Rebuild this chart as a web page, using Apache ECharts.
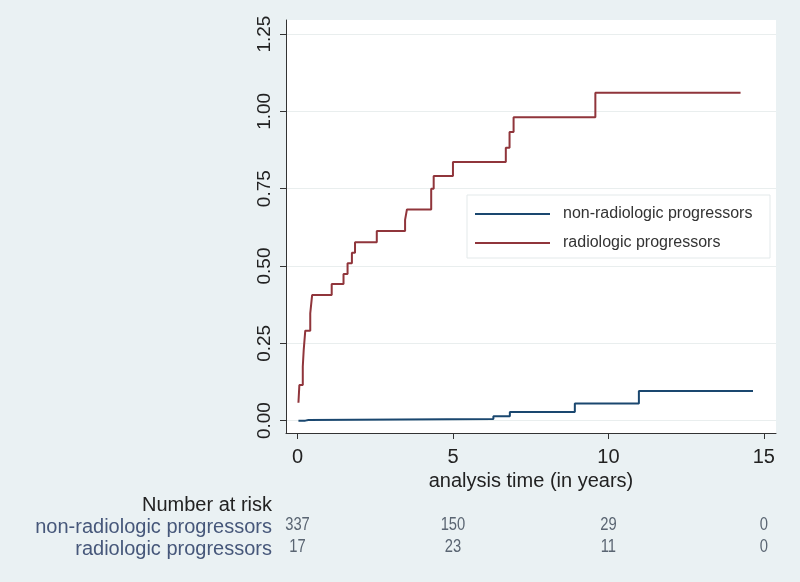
<!DOCTYPE html>
<html>
<head>
<meta charset="utf-8">
<script src="https://cdn.jsdelivr.net/npm/echarts@6/dist/echarts.min.js"></script>
<style>
html,body{margin:0;padding:0;background:#eaf1f3;}
#chart{width:800px;height:582px;}
</style>
</head>
<body>
<div id="chart"></div>
<script>
// ---- data ----
const seriesNames = ['non-radiologic progressors', 'radiologic progressors'];
const nonRadTimes  = [0.03, 0.25, 0.35, 6.30, 6.83, 8.92, 10.98, 14.65];
const nonRadValues = [0.000, 0.002, 0.005, 0.014, 0.028, 0.055, 0.096, 0.096];
const radTimes  = [0.03, 0.06, 0.17, 0.20, 0.25, 0.41, 0.47, 1.10, 1.48, 1.61, 1.75, 1.85, 2.55, 3.46, 3.52, 4.30, 4.38, 5.00, 6.70, 6.82, 6.95, 9.58, 14.25];
const radValues = [0.058, 0.115, 0.175, 0.229, 0.291, 0.347, 0.406, 0.442, 0.474, 0.509, 0.543, 0.577, 0.613, 0.649, 0.683, 0.750, 0.791, 0.836, 0.882, 0.933, 0.981, 1.060, 1.060];
const xTicks = [0, 5, 10, 15];
const yTicks = [0, 0.25, 0.5, 0.75, 1.0, 1.25];
const riskTimes = [0, 5, 10, 15];
const riskNonRad = [337, 150, 29, 0];
const riskRad = [17, 23, 11, 0];
const xTitle = 'analysis time (in years)';
const riskTitle = 'Number at risk';

const pairs = (t, v) => t.map((x, i) => [x, v[i]]);
const xMin = -0.37, xMax = 15.39, yMin = -0.04, yMax = 1.2955;
const sans = "'Liberation Sans', Arial, sans-serif";

const chart = echarts.init(document.getElementById('chart'), null, {renderer: 'canvas'});
const baseGraphic = [
  {type: 'rect', z: 5, shape: {x: 467, y: 195, width: 303, height: 63},
   style: {fill: '#ffffff', stroke: '#e3e9ea', lineWidth: 1}},
  {type: 'text', x: 272, y: 505, style: {text: riskTitle, fontFamily: sans, fontSize: 20, fill: '#222', align: 'right', verticalAlign: 'middle'}},
  {type: 'text', x: 272, y: 527, style: {text: seriesNames[0], fontFamily: sans, fontSize: 20, fill: '#46577a', align: 'right', verticalAlign: 'middle'}},
  {type: 'text', x: 272, y: 549, style: {text: seriesNames[1], fontFamily: sans, fontSize: 20, fill: '#46577a', align: 'right', verticalAlign: 'middle'}}
];
chart.setOption({
  backgroundColor: '#eaf1f3',
  animation: false,
  grid: {left: 286, right: 24, top: 20, bottom: 149, show: true, backgroundColor: '#ffffff', borderWidth: 0},
  xAxis: {
    type: 'value', min: xMin, max: xMax, position: 'bottom',
    name: xTitle, nameLocation: 'middle', nameGap: 38,
    nameTextStyle: {fontFamily: sans, fontSize: 20, color: '#222'},
    axisLine: {show: true, onZero: false, lineStyle: {color: '#333', width: 1}},
    axisTick: {show: true, customValues: xTicks, length: 6, inside: false, lineStyle: {color: '#333'}},
    axisLabel: {customValues: xTicks, margin: 14, fontFamily: sans, fontSize: 20, color: '#222'},
    splitLine: {show: false}
  },
  yAxis: {
    type: 'value', min: yMin, max: yMax,
    axisLine: {show: true, onZero: false, lineStyle: {color: '#333', width: 1}},
    axisTick: {show: true, customValues: yTicks, length: 6, lineStyle: {color: '#333'}},
    axisLabel: {customValues: yTicks, rotate: 90, margin: 12, fontFamily: sans, fontSize: 19, color: '#222',
      formatter: v => v.toFixed(2)},
    splitLine: {show: true, lineStyle: {color: '#e9eeee', width: 1}}
  },
  legend: {
    show: true, orient: 'vertical', left: 467, top: 196, padding: [8, 8, 8, 8],
    itemWidth: 75, itemHeight: 2, itemGap: 9, icon: 'rect',
    data: seriesNames,
    textStyle: {fontFamily: sans, fontSize: 16, color: '#333', lineHeight: 20, padding: [0, 0, 0, 8]},
    z: 10
  },
  graphic: baseGraphic,
  series: [
    {name: seriesNames[0], type: 'line', step: 'end', showSymbol: false, data: pairs(nonRadTimes, nonRadValues),
     lineStyle: {color: '#1a476f', width: 2}, itemStyle: {color: '#1a476f'}, z: 3},
    {name: seriesNames[1], type: 'line', step: 'end', showSymbol: false, data: pairs(radTimes, radValues),
     lineStyle: {color: '#90353b', width: 2}, itemStyle: {color: '#90353b'}, z: 3}
  ]
});

// number-at-risk table placed through the x axis scale
const riskRows = [[riskNonRad, 525], [riskRad, 547]];
const riskGraphic = [];
riskRows.forEach(([vals, y]) => {
  riskTimes.forEach((t, i) => {
    const px = chart.convertToPixel({xAxisIndex: 0}, t);
    riskGraphic.push({type: 'text', x: px, y: y, scaleX: 0.82,
      style: {text: String(vals[i]), fontFamily: sans, fontSize: 18, fill: '#5a6572', align: 'center', verticalAlign: 'middle'}});
  });
});
chart.setOption({graphic: baseGraphic.concat(riskGraphic)});
</script>
</body>
</html>
